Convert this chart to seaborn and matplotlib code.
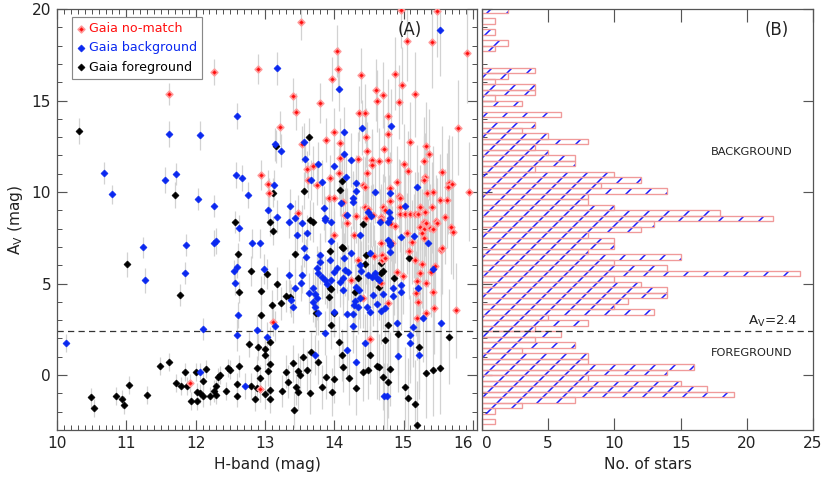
import numpy as np
import pandas as pd
import matplotlib
matplotlib.use("Agg")
import matplotlib.pyplot as plt
from matplotlib.ticker import MultipleLocator
import seaborn as sns

# (H mag, A_V mag, A_V error)
foreground = [
    (10.32, 13.33, 0.7), (11.70, 9.85, 0.7), (12.57, 8.38, 0.6), (11.01, 6.05, 0.7),
    (11.78, 4.37, 0.6), (12.61, 6.60, 0.6), (12.63, 4.55, 0.6), (11.48, 0.51, 0.5),
    (11.61, 0.73, 0.5), (10.49, -1.22, 0.5), (10.54, -1.78, 0.5), (10.85, -1.13, 0.5),
    (10.94, -1.30, 0.5), (10.96, -1.64, 0.5), (11.04, -0.55, 0.5), (11.30, -1.09, 0.5),
    (11.71, -0.45, 0.5), (11.79, -0.58, 0.5), (11.84, 0.18, 0.5), (11.87, -0.60, 0.5),
    (12.00, 0.18, 0.5), (12.15, 0.33, 0.5), (12.11, -0.33, 0.5), (11.94, -1.42, 0.5),
    (12.02, -0.91, 0.5), (12.02, -1.42, 0.5), (12.07, -1.00, 0.5), (12.11, -1.13, 0.6),
    (12.21, -1.13, 0.5), (12.27, -0.87, 0.6), (12.29, -0.60, 0.5), (12.30, -1.10, 0.5),
    (12.35, 0.00, 0.5), (12.33, -0.10, 0.5), (12.44, -0.87, 0.5), (12.47, 0.40, 0.5),
    (12.50, 0.30, 0.5), (12.60, -0.51, 0.6), (12.60, -1.13, 0.6), (12.63, 0.50, 0.6),
    (12.80, 5.68, 0.8), (13.03, 5.52, 0.8), (12.94, 4.61, 0.8), (12.94, 3.28, 0.8),
    (13.10, 3.83, 0.8), (13.18, 4.99, 0.9), (13.23, 3.92, 0.9), (13.31, 4.32, 0.9),
    (13.36, 4.28, 0.9), (13.43, 6.59, 1.0), (12.77, 1.68, 0.7), (12.90, 1.55, 0.7),
    (13.00, 1.40, 0.7), (13.00, 1.09, 0.8), (13.08, 1.82, 0.8), (13.08, 0.58, 0.8),
    (13.05, 0.22, 0.8), (12.89, 0.36, 0.7), (12.93, -0.14, 0.7), (12.89, -0.69, 0.7),
    (12.93, -0.78, 0.7), (12.86, -1.28, 0.7), (13.00, -1.06, 0.8), (13.07, -1.28, 0.8),
    (13.08, -0.82, 0.8), (12.80, -0.58, 0.7), (13.24, -0.87, 0.9), (13.30, 0.18, 0.9),
    (13.34, -0.37, 0.9), (13.41, 0.64, 1.0), (13.42, -1.91, 1.0), (13.48, 0.20, 1.0),
    (13.50, 0.00, 1.0), (13.45, -0.66, 1.0), (13.47, -0.93, 1.0), (13.55, 1.00, 1.0),
    (13.60, 0.25, 1.1), (13.65, -1.00, 1.1), (13.67, 1.24, 1.1), (13.76, 0.73, 1.2),
    (13.82, -0.64, 1.2), (13.88, -0.09, 1.2), (13.99, -0.22, 1.3), (13.97, -0.91, 1.3),
    (14.07, 1.82, 1.4), (14.11, 1.09, 1.4), (14.13, 0.45, 1.4), (14.21, -0.15, 1.5),
    (14.32, -0.69, 1.5), (14.42, 0.18, 1.6), (14.49, 0.27, 1.6), (14.52, 1.09, 1.6),
    (14.62, 0.50, 1.8), (14.64, 0.42, 1.8), (14.71, -0.09, 1.8), (14.78, -0.37, 2.0),
    (14.81, 0.33, 2.0), (14.73, 1.91, 2.0), (14.78, 2.73, 2.0), (14.92, 2.22, 2.2),
    (15.02, -0.64, 2.2), (15.06, -1.24, 2.2), (15.17, -1.60, 2.4), (15.20, -2.73, 2.4),
    (15.23, 1.55, 2.4), (15.33, 0.13, 2.5), (15.42, 0.29, 2.5), (15.53, 0.40, 2.5),
    (15.66, 2.09, 2.6), (13.96, 2.73, 1.3), (13.94, 6.78, 1.3), (14.12, 6.96, 1.4),
    (13.94, 4.75, 1.3), (13.96, 4.70, 1.3), (13.92, 4.28, 1.3), (13.73, 3.37, 1.2),
    (14.00, 3.40, 1.3), (14.30, 4.55, 1.5), (14.35, 5.32, 1.5), (14.44, 6.07, 1.6),
    (14.46, 6.56, 1.6), (14.67, 6.10, 1.8), (14.70, 5.70, 1.8), (14.68, 5.60, 1.8),
    (14.65, 4.83, 1.8), (14.86, 5.28, 2.0), (15.08, 6.38, 2.2), (13.63, 13.02, 1.0),
    (13.16, 12.50, 0.9), (13.11, 9.96, 0.8), (13.57, 10.07, 1.0), (14.09, 10.11, 1.4),
    (14.11, 10.62, 1.4), (13.65, 8.47, 1.1), (13.70, 8.38, 1.1), (14.41, 8.23, 1.6),
    (14.11, 7.02, 1.4), (13.07, 8.38, 0.8), (13.12, 7.89, 0.8),
]

background = [
    (11.61, 13.17, 0.7), (12.07, 13.10, 0.8), (12.59, 14.15, 0.7), (10.68, 11.04, 0.6),
    (10.79, 9.87, 0.5), (11.56, 10.66, 0.7), (11.71, 10.98, 0.6), (12.04, 9.60, 0.6),
    (12.27, 9.25, 0.6), (12.58, 10.93, 0.7), (12.62, 8.05, 0.7), (11.24, 6.97, 0.6),
    (11.86, 7.10, 0.6), (12.26, 7.23, 0.7), (12.29, 7.34, 0.7), (11.27, 5.17, 0.7),
    (11.84, 5.57, 0.6), (12.56, 5.70, 0.6), (12.60, 5.90, 0.6), (12.57, 5.05, 0.7),
    (12.61, 3.28, 0.7), (12.11, 2.50, 0.6), (12.59, 2.19, 0.9), (10.13, 1.77, 0.5),
    (12.06, 0.18, 0.5), (12.99, 5.79, 0.8), (13.15, 2.68, 0.8), (12.88, 2.46, 0.8),
    (13.03, 2.09, 0.8), (13.35, 5.46, 0.9), (13.40, 3.73, 0.9), (13.38, 4.10, 0.9),
    (13.43, 4.77, 1.0), (13.54, 5.46, 1.0), (13.52, 5.04, 1.0), (13.57, 6.92, 1.0),
    (13.59, 6.45, 1.0), (12.71, -0.60, 0.7), (13.72, 1.09, 1.1), (14.19, 1.37, 1.5),
    (14.32, 0.69, 1.5), (14.72, -1.15, 1.8), (14.76, -1.12, 1.8), (14.92, 1.05, 2.0),
    (14.90, 2.82, 2.0), (15.09, 2.19, 2.2), (15.09, 1.77, 2.2), (15.13, 2.62, 2.2),
    (15.23, 1.09, 2.4), (15.28, 3.13, 2.4), (15.54, 2.82, 2.5), (14.45, 1.73, 1.6),
    (13.86, 2.28, 1.2), (14.27, 2.68, 1.5), (14.24, 6.65, 1.5), (14.14, 6.38, 1.4),
    (13.79, 6.56, 1.2), (13.80, 6.19, 1.2), (13.75, 5.86, 1.2), (13.77, 5.56, 1.2),
    (13.82, 5.37, 1.2), (13.94, 6.28, 1.3), (13.87, 5.19, 1.3), (13.89, 4.96, 1.3),
    (13.96, 5.19, 1.3), (14.04, 5.86, 1.4), (14.00, 5.65, 1.3), (14.13, 5.28, 1.4),
    (14.08, 5.10, 1.4), (14.16, 5.74, 1.4), (14.20, 5.61, 1.5), (14.13, 4.64, 1.4),
    (13.63, 4.46, 1.1), (13.70, 4.77, 1.1), (13.72, 4.41, 1.1), (13.75, 4.19, 1.2),
    (13.70, 4.01, 1.1), (13.72, 3.73, 1.1), (13.77, 3.37, 1.2), (14.00, 3.46, 1.3),
    (14.18, 3.32, 1.5), (14.30, 4.04, 1.5), (14.28, 3.83, 1.5), (14.35, 3.73, 1.5),
    (14.37, 4.19, 1.6), (14.32, 4.83, 1.5), (14.36, 4.64, 1.6), (14.27, 3.32, 1.5),
    (14.37, 6.00, 1.6), (14.38, 5.70, 1.6), (14.52, 6.65, 1.7), (14.80, 7.10, 2.0),
    (14.80, 6.74, 2.0), (14.49, 5.46, 1.7), (14.54, 5.37, 1.7), (14.61, 5.32, 1.8),
    (14.59, 5.56, 1.8), (14.65, 5.19, 1.8), (14.56, 4.37, 1.7), (14.47, 3.73, 1.7),
    (14.51, 3.46, 1.7), (14.62, 3.86, 1.8), (14.68, 3.50, 1.8), (14.73, 3.64, 1.9),
    (14.70, 4.43, 1.9), (14.85, 4.77, 2.0), (14.85, 4.33, 2.0), (14.96, 4.92, 2.1),
    (14.97, 4.55, 2.1), (15.21, 4.74, 2.3), (15.42, 5.79, 2.5), (14.07, 15.65, 1.2),
    (14.40, 13.51, 1.5), (14.82, 13.61, 2.0), (14.14, 13.26, 1.4), (13.56, 12.75, 1.0),
    (14.14, 12.06, 1.4), (14.24, 11.75, 1.5), (13.58, 11.79, 1.0), (13.77, 11.53, 1.2),
    (13.99, 11.42, 1.3), (14.17, 10.80, 1.4), (13.67, 10.66, 1.1), (13.83, 10.56, 1.2),
    (14.32, 10.51, 1.5), (14.32, 10.07, 1.5), (14.59, 10.00, 1.7), (15.19, 10.26, 2.3),
    (14.80, 9.93, 2.0), (14.27, 9.65, 1.5), (14.27, 9.47, 1.5), (13.85, 9.15, 1.2),
    (14.10, 9.42, 1.4), (15.02, 9.25, 2.2), (14.48, 8.90, 1.7), (14.53, 8.70, 1.7),
    (14.79, 8.92, 2.0), (14.80, 8.56, 2.0), (13.96, 7.34, 1.3), (14.37, 7.65, 1.6),
    (14.19, 8.74, 1.5), (13.87, 8.56, 1.2), (13.86, 8.47, 1.2), (13.96, 8.38, 1.3),
    (13.61, 7.74, 1.0), (13.53, 8.29, 1.0), (14.66, 8.38, 1.8), (14.78, 8.38, 2.0),
    (14.96, 7.56, 2.1), (15.15, 7.60, 2.3), (15.35, 7.20, 2.4), (14.77, 7.38, 2.0),
    (14.80, 7.20, 2.0), (15.52, 18.85, 2.5), (13.17, 16.76, 0.9), (13.14, 12.62, 0.9),
    (13.23, 12.26, 0.9), (12.67, 10.78, 0.7), (12.75, 9.84, 0.7), (13.13, 10.38, 0.8),
    (13.04, 9.02, 0.8), (13.18, 8.65, 0.9), (13.36, 9.25, 0.9), (13.35, 8.38, 0.9),
    (13.43, 8.56, 1.0), (12.82, 7.20, 0.8), (12.93, 7.20, 0.8), (13.46, 7.65, 1.0),
]

nomatch = [
    (11.92, -0.42, 0.5), (13.11, 2.91, 0.8), (12.93, -0.76, 0.7), (14.51, 1.95, 1.6),
    (14.41, 4.19, 1.6), (14.24, 5.19, 1.5), (14.35, 6.28, 1.5), (14.57, 6.52, 1.7),
    (14.69, 6.56, 1.8), (14.69, 6.28, 1.8), (14.73, 6.41, 1.8), (14.68, 5.01, 1.8),
    (14.77, 3.92, 1.9), (14.90, 5.65, 2.0), (14.99, 5.43, 2.1), (15.08, 6.78, 2.2),
    (15.17, 6.28, 2.3), (15.26, 6.07, 2.4), (15.19, 5.14, 2.3), (15.24, 5.56, 2.3),
    (15.33, 5.01, 2.4), (15.18, 4.46, 2.3), (15.21, 4.01, 2.3), (15.19, 3.10, 2.3),
    (15.33, 3.37, 2.4), (15.44, 3.64, 2.5), (15.43, 4.52, 2.5), (15.39, 5.65, 2.5),
    (15.45, 5.97, 2.5), (15.54, 6.83, 2.5), (15.76, 3.55, 2.6), (14.05, 16.70, 1.2),
    (13.97, 16.16, 1.2), (14.39, 16.38, 1.5), (14.87, 16.46, 2.0), (14.98, 15.83, 2.1),
    (15.17, 15.33, 2.3), (14.60, 15.57, 1.7), (14.71, 15.32, 1.8), (14.61, 14.97, 1.7),
    (14.93, 14.92, 2.0), (13.80, 14.85, 1.1), (14.36, 14.30, 1.5), (14.45, 14.30, 1.6),
    (14.78, 14.15, 2.0), (14.77, 13.17, 1.9), (13.99, 13.30, 1.3), (13.53, 12.62, 1.0),
    (13.88, 12.84, 1.2), (14.46, 12.99, 1.6), (14.08, 12.66, 1.4), (15.10, 12.73, 2.2),
    (15.32, 12.51, 2.4), (15.78, 13.51, 2.6), (14.72, 12.33, 1.8), (15.37, 12.06, 2.5),
    (14.47, 12.24, 1.6), (14.08, 11.87, 1.4), (14.34, 11.79, 1.5), (14.54, 11.75, 1.7),
    (14.65, 11.71, 1.8), (14.78, 11.75, 2.0), (13.70, 11.42, 1.1), (13.60, 11.24, 1.0),
    (14.54, 11.48, 1.7), (15.01, 11.53, 2.2), (15.29, 11.69, 2.4), (15.06, 11.15, 2.2),
    (14.47, 11.02, 1.6), (14.07, 11.02, 1.4), (13.94, 10.75, 1.3), (15.31, 10.80, 2.4),
    (15.30, 10.65, 2.4), (15.55, 11.11, 2.5), (15.65, 10.50, 2.6), (15.70, 10.45, 2.6),
    (15.64, 10.30, 2.6), (13.62, 10.66, 1.0), (13.75, 10.38, 1.1), (14.41, 10.38, 1.6),
    (14.45, 10.30, 1.6), (14.80, 10.20, 2.0), (14.91, 10.53, 2.0), (15.34, 9.95, 2.4),
    (15.42, 10.00, 2.5), (15.53, 9.56, 2.5), (15.62, 9.56, 2.6), (15.94, 10.02, 2.7),
    (13.92, 9.70, 1.3), (13.99, 9.65, 1.3), (14.12, 9.47, 1.4), (14.81, 9.50, 2.0),
    (14.93, 9.80, 2.0), (14.95, 9.65, 2.1), (14.95, 9.20, 2.1), (15.24, 9.16, 2.3),
    (14.45, 9.20, 1.6), (14.49, 9.10, 1.7), (14.56, 8.74, 1.7), (14.71, 9.20, 1.8),
    (14.73, 9.00, 1.9), (14.68, 8.65, 1.8), (14.68, 8.47, 1.8), (14.95, 8.80, 2.1),
    (15.02, 8.80, 2.2), (15.09, 8.80, 2.2), (15.17, 8.80, 2.3), (15.21, 8.80, 2.3),
    (15.31, 8.92, 2.4), (15.41, 9.16, 2.5), (15.60, 8.65, 2.6), (15.29, 8.38, 2.4),
    (15.33, 8.29, 2.4), (15.47, 8.43, 2.5), (15.49, 8.29, 2.5), (15.24, 8.10, 2.3),
    (15.30, 8.00, 2.4), (15.38, 8.02, 2.4), (15.43, 7.98, 2.5), (15.69, 8.10, 2.6),
    (15.71, 7.83, 2.6), (14.16, 8.74, 1.5), (14.18, 8.29, 1.5), (14.31, 8.69, 1.5),
    (13.99, 7.65, 1.3), (14.28, 7.65, 1.5), (14.82, 8.25, 2.0), (14.88, 8.14, 2.0),
    (15.05, 7.74, 2.2), (15.12, 7.28, 2.3), (15.26, 7.74, 2.4), (15.29, 7.47, 2.4),
    (14.68, 7.20, 1.8), (14.84, 7.23, 2.0), (15.55, 6.92, 2.5), (14.46, 8.56, 1.6),
    (13.52, 19.31, 1.0), (14.97, 19.95, 2.1), (15.48, 19.90, 2.5), (15.05, 18.25, 2.2),
    (15.41, 18.18, 2.5), (15.92, 17.58, 2.7), (14.04, 17.70, 1.4), (12.90, 16.72, 0.8),
    (13.41, 15.25, 1.0), (13.45, 14.39, 1.0), (13.22, 13.53, 0.9), (12.95, 10.93, 0.8),
    (13.04, 10.42, 0.8), (13.06, 9.96, 0.8), (13.48, 8.84, 1.0), (12.27, 16.57, 0.7),
    (11.62, 15.34, 0.6),
]

# histogram of A_V: 0.3 mag bins starting at -3.0 (bottom to top)
bin_start = -3.0
bin_width = 0.3
star_counts = [
    0, 1, 0, 1, 3, 7, 19, 17, 15, 8, 14, 16, 8, 8, 3, 7, 4, 6, 4, 8,
    5, 13, 10, 11, 14, 14, 12, 10, 24, 14, 10, 15, 8, 10, 10, 8, 12, 13, 22, 18,
    10, 8, 8, 14, 9, 12, 10, 4, 7, 7, 5, 4, 8, 5, 3, 4, 0, 6, 0, 3,
    1, 4, 4, 1, 2, 4, 0, 0, 0, 1, 2, 0, 1, 0, 1, 0, 2,
]
av_cut = 2.4

cols = ["H", "Av", "err"]
df_fg = pd.DataFrame(foreground, columns=cols)
df_bg = pd.DataFrame(background, columns=cols)
df_nm = pd.DataFrame(nomatch, columns=cols)

edges = bin_start + bin_width * np.arange(len(star_counts) + 1)
hist_df = pd.DataFrame({"Av": edges[:-1] + bin_width / 2, "n": star_counts})

sns.set_style("ticks")
plt.rcParams["font.family"] = ["DejaVu Sans"]
plt.rcParams["hatch.linewidth"] = 0.9

# 120 dpi so the '//' hatch spacing matches the ~10 px of the original
fig = plt.figure(figsize=(830 / 120, 484 / 120), dpi=120)
ax1 = fig.add_axes([0.0687, 0.1116, 0.506, 0.8698])
ax2 = fig.add_axes([0.5807, 0.1116, 0.3988, 0.8698], sharey=ax1)

# panel A: error bars then diamonds
for d in (df_fg, df_bg, df_nm):
    ax1.errorbar(d["H"], d["Av"], yerr=d["err"], fmt="none",
                 ecolor="#d2d2d2", elinewidth=0.75, capsize=0, zorder=1)

sns.scatterplot(data=df_fg, x="H", y="Av", marker="D", s=9, color="black",
                edgecolor="black", linewidth=0.35, label="Gaia foreground", ax=ax1, zorder=3)
sns.scatterplot(data=df_nm, x="H", y="Av", marker="D", s=8, color="#ff1010",
                edgecolor="#ff9a9a", linewidth=1.0, label="Gaia no-match", ax=ax1, zorder=4)
sns.scatterplot(data=df_bg, x="H", y="Av", marker="D", s=9, color="#0a28f0",
                edgecolor="#0a28f0", linewidth=0.35, label="Gaia background", ax=ax1, zorder=5)

handles, labels = ax1.get_legend_handles_labels()
order = [labels.index(n) for n in ["Gaia no-match", "Gaia background", "Gaia foreground"]]
leg = ax1.legend([handles[i] for i in order], [labels[i] for i in order],
                 loc="upper left", bbox_to_anchor=(0.036, 0.981), borderaxespad=0,
                 fontsize=7.6, handlelength=0.6, handletextpad=0.35, labelspacing=0.5,
                 borderpad=0.4, fancybox=False, framealpha=1, edgecolor="#888888")
leg.get_frame().set_linewidth(0.7)
for txt, c in zip(leg.get_texts(), ["#ff1010", "#0a28f0", "black"]):
    txt.set_color(c)

ax1.axhline(av_cut, color="#333333", ls=(0, (5, 3.4)), lw=0.75, zorder=2)
ax1.text(15.09, 18.85, "(A)", fontsize=10, ha="center", va="center", color="#222222")

ax1.set_xlim(10, 16.06)
ax1.set_ylim(-3, 20)
xt = ax1.set_xticks(np.arange(10, 17), [str(v) for v in range(10, 17)])
ax1.xaxis.set_minor_locator(MultipleLocator(0.1))
ax1.yaxis.set_major_locator(MultipleLocator(5))
ax1.yaxis.set_minor_locator(MultipleLocator(1))
ax1.set_xlabel("H-band (mag)", fontsize=9.2, color="#222222")
ax1.set_ylabel(r"A$_\mathrm{V}$ (mag)", fontsize=9.2, color="#222222")

# panel B: hatched horizontal histogram (blue hatch layer, then red outlines)
bin_list = edges.tolist()
sns.histplot(data=hist_df, y="Av", weights="n", bins=bin_list, element="bars",
             fill=False, color="#1a1aff", hatch="//", linewidth=0, ax=ax2)
sns.histplot(data=hist_df, y="Av", weights="n", bins=bin_list, element="bars",
             fill=False, color="#f09a9a", linewidth=0.8, ax=ax2)

ax2.axhline(av_cut, color="#333333", ls=(0, (5, 3.4)), lw=0.75)
ax2.text(22.3, 18.85, "(B)", fontsize=10, ha="center", va="center", color="#222222")
ax2.text(20.4, 12.2, "BACKGROUND", fontsize=6.8, ha="center", va="center", color="#222222")
ax2.text(20.4, 1.2, "FOREGROUND", fontsize=6.8, ha="center", va="center", color="#222222")
ax2.text(22.0, 2.95, r"A$_\mathrm{V}$=2.4", fontsize=8, ha="center", va="center",
         color="#222222")

ax2.set_xlim(0, 25)
ax2.set_ylim(-3, 20)
xt2 = ax2.set_xticks(np.arange(0, 26, 5), [str(v) for v in range(0, 26, 5)])
ax2.yaxis.set_minor_locator(MultipleLocator(1))
ax2.set_xlabel("No. of stars", fontsize=9.2, color="#222222")
ax2.set_ylabel("")
ax2.tick_params(axis="y", which="both", labelleft=False)

for ax in (ax1, ax2):
    ax.tick_params(which="both", direction="in", top=True, right=True,
                   colors="#555555", labelcolor="#222222", labelsize=9.2)
    ax.tick_params(which="major", length=5.8, width=0.7)
    ax.tick_params(which="minor", length=2.9, width=0.6)
    for sp in ax.spines.values():
        sp.set_color("#555555")
        sp.set_linewidth(0.75)
ax2.tick_params(axis="y", which="minor", right=False)
ax2.tick_params(axis="x", which="major", length=7.5)

# keep the "16" and "0" labels from running into each other
xt[-1].label1.set_horizontalalignment("right")
xt2[0].label1.set_horizontalalignment("left")

fig.savefig("out.png", dpi=120)
